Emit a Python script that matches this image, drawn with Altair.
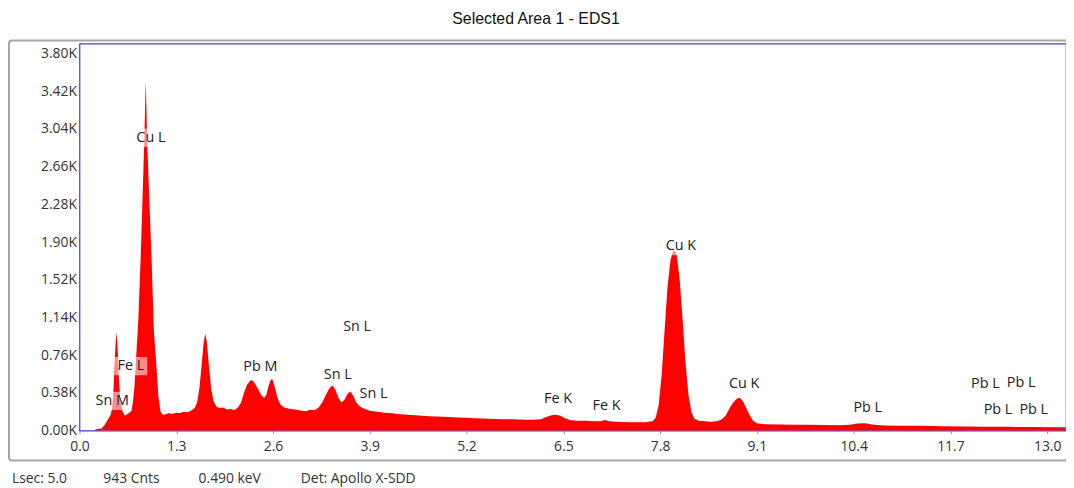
import altair as alt
import pandas as pd

# ---- spectrum (energy keV, counts) ----
energy_kev = [0.00, 0.20, 0.22, 0.26, 0.30, 0.34, 0.38, 0.42, 0.44, 0.46, 0.48, 0.495, 0.51, 0.53, 0.55,
              0.58, 0.61, 0.64, 0.67, 0.70, 0.72, 0.74, 0.76, 0.79, 0.82, 0.85, 0.87, 0.88, 0.89, 0.90,
              0.91, 0.94, 0.97, 1.00, 1.03, 1.06, 1.09, 1.12, 1.16, 1.20, 1.25, 1.30, 1.35, 1.40, 1.45,
              1.50, 1.55, 1.58, 1.61, 1.64, 1.67, 1.69, 1.71, 1.74, 1.77, 1.80, 1.84, 1.88, 1.93, 1.98,
              2.03, 2.08, 2.13, 2.17, 2.21, 2.25, 2.29, 2.32, 2.36, 2.40, 2.44, 2.48, 2.51, 2.54, 2.57,
              2.59, 2.62, 2.66, 2.70, 2.75, 2.80, 2.86, 2.92, 2.98, 3.04, 3.10, 3.16, 3.21, 3.26, 3.31,
              3.36, 3.40, 3.44, 3.48, 3.52, 3.56, 3.60, 3.64, 3.68, 3.72, 3.77, 3.83, 3.90, 4.00, 4.10,
              4.20, 4.30, 4.40, 4.50, 4.60, 4.70, 4.80, 4.90, 5.00, 5.10, 5.20, 5.30, 5.40, 5.50, 5.60,
              5.70, 5.80, 5.90, 6.00, 6.10, 6.20, 6.28, 6.34, 6.40, 6.46, 6.52, 6.60, 6.70, 6.80, 6.90,
              7.00, 7.06, 7.12, 7.20, 7.30, 7.40, 7.50, 7.60, 7.70, 7.74, 7.78, 7.82, 7.86, 7.90, 7.94,
              7.98, 8.02, 8.06, 8.10, 8.14, 8.18, 8.22, 8.26, 8.32, 8.40, 8.48, 8.56, 8.62, 8.68, 8.73,
              8.78, 8.83, 8.87, 8.91, 8.95, 9.00, 9.05, 9.10, 9.20, 9.40, 9.60, 9.80, 10.00, 10.20, 10.35,
              10.45, 10.55, 10.65, 10.80, 11.00, 11.30, 11.60, 11.90, 12.20, 12.50, 12.80, 13.10, 13.25]
counts = [0, 0, 15, 20, 25, 60, 110, 160, 230, 450, 800, 990, 880, 520, 300,
          190, 150, 165, 180, 200, 300, 450, 720, 1100, 1700, 2400, 2900, 3200, 3530, 3250,
          2900, 2300, 1700, 1000, 700, 350, 190, 160, 165, 175, 170, 180, 178, 190, 186,
          200, 230, 280, 420, 650, 900, 970, 900, 650, 420, 300, 240, 228, 232, 212,
          218, 205, 232, 280, 380, 460, 500, 510, 470, 420, 360, 330, 360, 450, 510,
          520, 450, 330, 262, 232, 222, 215, 210, 200, 196, 210, 205, 230, 280, 360,
          430, 455, 410, 330, 280, 310, 370, 395, 350, 280, 240, 220, 200, 190, 180,
          176, 166, 160, 156, 150, 146, 141, 140, 135, 132, 130, 125, 122, 120, 118,
          115, 115, 112, 110, 110, 115, 140, 155, 160, 150, 125, 105, 100, 100, 95,
          95, 108, 95, 90, 88, 85, 85, 85, 95, 130, 250, 550, 1000, 1450, 1720,
          1820, 1780, 1550, 1150, 700, 370, 190, 120, 100, 95, 90, 95, 110, 150, 220,
          280, 320, 330, 300, 240, 160, 100, 75, 65, 62, 60, 58, 57, 55, 60,
          72, 75, 62, 52, 50, 48, 45, 42, 40, 38, 36, 35, 34]

# ---- peak labels ----
label_text = ["Cu L", "Fe L", "Sn M", "Pb M", "Sn L", "Sn L", "Sn L", "Fe K", "Fe K",
              "Cu K", "Cu K", "Pb L", "Pb L", "Pb L", "Pb L", "Pb L"]
label_kev = [0.96, 0.69, 0.44, 2.43, 3.73, 3.47, 3.95, 6.43, 7.08,
             8.08, 8.93, 10.59, 12.17, 12.65, 12.34, 12.82]
label_counts = [2950, 650, 300, 640, 1040, 560, 370, 320, 250,
                1860, 470, 230, 470, 480, 210, 210]

# ---- axis ticks ----
x_ticks = [0.0, 1.3, 2.6, 3.9, 5.2, 6.5, 7.8, 9.1, 10.4, 11.7, 13.0]
y_ticks = [0, 380, 760, 1140, 1520, 1900, 2280, 2660, 3040, 3420, 3800]

# ---- status line ----
status_text = ["Lsec: 5.0", "943 Cnts", "0.490 keV", "Det: Apollo X-SDD"]

spec = pd.DataFrame({"energy": energy_kev, "counts": counts})
labels = pd.DataFrame({"text": label_text, "energy": label_kev, "counts": label_counts})
one = pd.DataFrame({"k": [0]})

BLUE = "#3d3dd6"
FONT = "Open Sans"

xs = alt.Scale(domain=[0, 13.253], nice=False, zero=True)
ys = alt.Scale(domain=[0, 3900], nice=False)

xaxis = alt.Axis(values=x_ticks, format=".1f", title=None, grid=False, domain=False,
                 ticks=True, tickSize=3, tickColor="#8a8ae8", labelFont=FONT, labelFontSize=14,
                 labelColor="#333333", labelPadding=6, labelFlush=False, labelOverlap=False)
yaxis = alt.Axis(values=y_ticks, labelExpr="format(datum.value/1000, '.2f') + 'K'", title=None,
                 grid=False, domain=False, ticks=False, labelFont=FONT, labelFontSize=14,
                 labelColor="#333333", labelPadding=3, labelOverlap=False, labelFlush=False,
                 labelBound=False)

X = alt.X("energy:Q", scale=xs, axis=xaxis)
Y = alt.Y("counts:Q", scale=ys, axis=yaxis)

frame = alt.Chart(one).mark_rect(fill=None, stroke="#a6a6a6", strokeWidth=2, cornerRadius=3).encode(
    x=alt.value(-71), x2=alt.value(1000), y=alt.value(-3), y2=alt.value(420)
)

area = alt.Chart(spec).mark_area(color="#ff0000", opacity=1, interpolate="linear").encode(x=X, y=Y)

boxes = alt.Chart(labels).mark_point(
    shape="M-1,-0.56L1,-0.56L1,0.56L-1,0.56Z", filled=True, fill="white", fillOpacity=0.55,
    strokeWidth=0, size=1100
).encode(x=X, y=Y)

texts = alt.Chart(labels).mark_text(font=FONT, fontSize=14.5, color="#222222", align="center",
                                    baseline="middle").encode(x=X, y=Y, text="text:N")

status_layers = []
status_x = [-68, 24, 120, 223]
for t, px in zip(status_text, status_x):
    status_layers.append(
        alt.Chart(one).mark_text(text=t, font=FONT, fontSize=14, color="#333333", align="left",
                                 baseline="middle").encode(x=alt.value(px), y=alt.value(439))
    )

chart = alt.layer(area, frame, boxes, texts, *status_layers).properties(
    width=994, height=390,
    title=alt.TitleParams("Selected Area 1 - EDS1", font="Liberation Sans", fontSize=16,
                          fontWeight="normal", color="#111111", anchor="middle", dx=-37, offset=13),
    autosize=alt.AutoSizeParams(type="none"),
    padding={"left": 72, "top": 34, "right": 0, "bottom": 56},
).configure_view(stroke=BLUE, strokeWidth=1.2).configure_axis(labelOverlap=False)

chart.save("out.html", embed_options={"renderer": "svg", "actions": False})
